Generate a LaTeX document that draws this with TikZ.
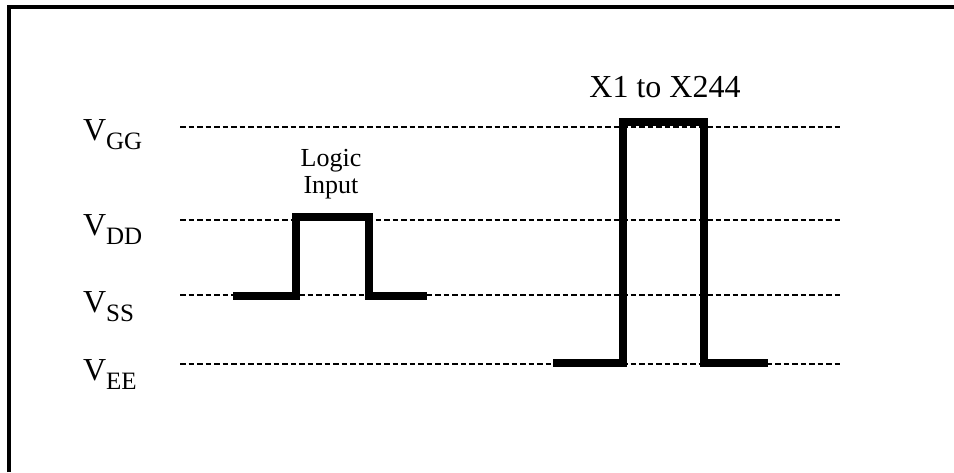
\documentclass[tikz,border=0pt]{standalone}
\usepackage{fontspec}
\setmainfont{Liberation Serif}
\pgfdeclarelayer{bg}
\pgfsetlayers{bg,main}
\tikzset{
    every node/.style={inner sep=0mm, outer sep=0mm, anchor=base west},
    level/.style={line width=2pt, dash pattern=on 5.5pt off 3pt},
    pulse/.style={line width=8pt, line join=miter, line cap=butt}
}
\newcommand{\vlevel}[1]{V\raisebox{-9pt}{\fontsize{25}{25}\selectfont #1}}

\begin{document}
\begin{tikzpicture}[x=1pt, y=-1pt, font=\fontsize{32}{38}\selectfont]
    \useasboundingbox (0,0) rectangle (954,472);
    \draw[line width=4pt, line join=miter] (9,472) -- (9,7) -- (954,7);

    \node (vgg) at (83, 140) {\vlevel{GG}};
    \node (vdd) at (83, 235) {\vlevel{DD}};
    \node (vss) at (83, 312) {\vlevel{SS}};
    \node (vee) at (83, 380) {\vlevel{EE}};

    \coordinate (gga) at (180,127); \coordinate (ggb) at (840,127);
    \coordinate (dda) at (180,220); \coordinate (ddb) at (840,220);
    \coordinate (ssa) at (180,295); \coordinate (ssb) at (840,295);
    \coordinate (eea) at (180,364); \coordinate (eeb) at (840,364);

    \begin{pgfonlayer}{bg}
        \draw[level] (gga) -- (ggb);
        \draw[level] (dda) -- (ddb);
        \draw[level] (ssa) -- (ssb);
        \draw[level] (eea) -- (eeb);
    \end{pgfonlayer}

    \node (li) at (331,149) [anchor=north, align=center,
            font=\fontsize{26}{27}\selectfont] {Logic\\Input};
    \coordinate (l1) at (233,296);
    \coordinate (l2) at (296,296);
    \coordinate (l3) at (296,217);
    \coordinate (l4) at (369,217);
    \coordinate (l5) at (369,296);
    \coordinate (l6) at (427,296);
    \draw[pulse] (l1) -- (l2) -- (l3) -- (l4) -- (l5) -- (l6);

    \node (xs) at (665,97) [anchor=base] {X1 to X244};
    \coordinate (x1) at (553,363);
    \coordinate (x2) at (623,363);
    \coordinate (x3) at (623,122);
    \coordinate (x4) at (704,122);
    \coordinate (x5) at (704,363);
    \coordinate (x6) at (768,363);
    \draw[pulse] (x1) -- (x2) -- (x3) -- (x4) -- (x5) -- (x6);
\end{tikzpicture}
\end{document}
